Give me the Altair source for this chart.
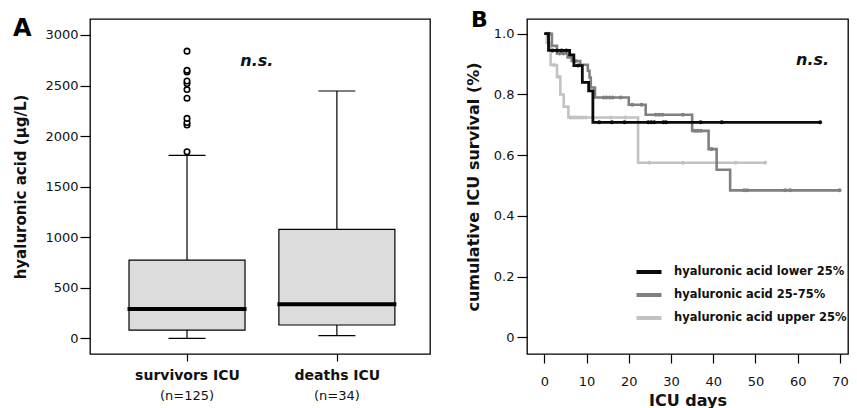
import altair as alt
import pandas as pd

FONT = "DejaVu Sans"
INK = "#111111"

# ---------------- Panel A : box plot summaries (ug/L) ----------------
box_groups = ["survivors ICU", "deaths ICU"]
box_n = ["(n=125)", "(n=34)"]
box_pos = [1, 2]
whisker_low = [0, 26]
q1 = [82, 132]
median = [290, 336]
q3 = [774, 1078]
whisker_high = [1810, 2446]
outlier_values = [1845, 2110, 2135, 2175, 2375, 2460, 2520, 2545, 2635, 2650, 2840]
yticks_A = [0, 500, 1000, 1500, 2000, 2500, 3000]

# ---------------- Panel B : Kaplan-Meier curves ----------------
km_groups = ["hyaluronic acid lower 25%", "hyaluronic acid 25-75%", "hyaluronic acid upper 25%"]
km_colors = ["#0a0a0a", "#808080", "#c2c2c2"]
low_t = [0, 1.0, 6.0, 7.0, 9.0, 10.5, 11.5, 65.3]
low_s = [1.0, 0.945, 0.93, 0.895, 0.84, 0.812, 0.708, 0.708]
mid_t = [0, 1.8, 3.0, 5.5, 6.5, 8.5, 10.3, 10.7, 11.0, 12.0, 20.0, 24.0, 35.0, 38.9, 40.8, 44.0, 70.0]
mid_s = [1.0, 0.96, 0.935, 0.922, 0.91, 0.898, 0.878, 0.856, 0.823, 0.79, 0.766, 0.733, 0.68, 0.62, 0.552, 0.484, 0.484]
up_t = [0, 0.6, 1.5, 3.0, 3.8, 4.6, 5.7, 22.2, 52.3]
up_s = [1.0, 0.97, 0.897, 0.858, 0.80, 0.76, 0.724, 0.575, 0.575]
low_cens = [2.0, 3.0, 4.1, 5.2, 8.0, 13.0, 16.0, 19.0, 24.6, 25.3, 26.0, 28.2, 28.8, 37.0, 42.0, 65.3]
mid_cens = [0.8, 1.3, 3.6, 4.5, 7.5, 14.0, 14.7, 15.5, 16.2, 18.1, 20.8, 23.0, 26.4, 27.2, 28.0,
            32.8, 35.6, 36.3, 37.1, 39.6, 47.3, 48.0, 57.0, 58.2, 69.9]
up_cens = [2.3, 3.4, 6.2, 6.8, 7.4, 8.0, 8.6, 9.2, 9.8, 15.8, 19.2, 24.9, 32.8, 45.3, 52.3]
xticks_B = [0, 10, 20, 30, 40, 50, 60, 70]
yticks_B = [0, 0.2, 0.4, 0.6, 0.8, 1.0]


def step_at(ts, ss, t):
    v = ss[0]
    for ti, si in zip(ts, ss):
        if ti <= t:
            v = si
    return v


# ---------------- tables ----------------
boxdf = pd.DataFrame({"group": box_groups, "n": box_n, "pos": box_pos, "lo": whisker_low,
                      "q1": q1, "med": median, "q3": q3, "hi": whisker_high})
outdf = pd.DataFrame({"pos": [box_pos[0]] * len(outlier_values), "value": outlier_values})

curves = [(low_t, low_s, low_cens), (mid_t, mid_s, mid_cens), (up_t, up_s, up_cens)]
line_rows, cens_rows = [], []
for g, (ts, ss, cs) in zip(km_groups, curves):
    for t, s in zip(ts, ss):
        line_rows.append({"grp": g, "t": t, "s": s})
    for c in cs:
        cens_rows.append({"grp": g, "t": c, "s": step_at(ts, ss, c)})
linedf = pd.DataFrame(line_rows)
censdf = pd.DataFrame(cens_rows)

# ---------------- Panel A ----------------
labexpr = " : ".join(f"datum.value == {p} ? '{g}'" for p, g in zip(box_pos, box_groups)) + " : ''"
xA_scale = alt.Scale(domain=[0.386, 2.588], nice=False, zero=False)
xA_axis = alt.Axis(values=box_pos, labelExpr=labexpr, tickSize=7, labelPadding=7,
                   labelFontSize=14, labelFontWeight="bold", labelFlush=False)
yA_scale = alt.Scale(domain=[-155, 3158], nice=False, zero=False)
yA_axis = alt.Axis(values=yticks_A, format="d", tickSize=10, labelPadding=2, titlePadding=16,
                   titleFontSize=15)
yA_title = "hyaluronic acid (μg/L)"


def xA(field="pos"):
    return alt.X(f"{field}:Q", scale=xA_scale, axis=xA_axis, title=None)


def yA(field):
    return alt.Y(f"{field}:Q", scale=yA_scale, axis=yA_axis, title=yA_title)


baseA = alt.Chart(boxdf)
whisk_lo = baseA.mark_rule(color="black", strokeWidth=1.2).encode(x=xA(), y=yA("lo"), y2="q1:Q")
whisk_hi = baseA.mark_rule(color="black", strokeWidth=1.2).encode(x=xA(), y=yA("q3"), y2="hi:Q")
box = baseA.mark_bar(size=116, fill="#dcdcdc", stroke="black", strokeWidth=1.2, opacity=1).encode(
    x=xA(), y=yA("q1"), y2="q3:Q")
cap_lo = baseA.mark_tick(orient="horizontal", size=37, thickness=1.2, color="black", opacity=1).encode(
    x=xA(), y=yA("lo"))
cap_hi = baseA.mark_tick(orient="horizontal", size=37, thickness=1.2, color="black", opacity=1).encode(
    x=xA(), y=yA("hi"))
med = baseA.mark_tick(orient="horizontal", size=119, thickness=4, color="black", opacity=1).encode(
    x=xA(), y=yA("med"))
outl = alt.Chart(outdf).mark_point(shape="circle", filled=True, fill="white", stroke="black",
                                   strokeWidth=1.6, size=30, opacity=1).encode(x=xA(), y=yA("value"))
ntext = baseA.mark_text(font=FONT, fontSize=13, color=INK, baseline="alphabetic").encode(
    x=xA(), y=alt.value(380.5), text="n:N")
nsA = alt.Chart(pd.DataFrame({"x": [1.466], "y": [2696], "t": ["n.s."]})).mark_text(
    font=FONT, fontSize=16, fontWeight="bold", fontStyle="italic", color=INK, baseline="alphabetic").encode(
    x=xA("x"), y=yA("y"), text="t:N")
letA = alt.Chart(pd.DataFrame({"t": ["A"]})).mark_text(
    font=FONT, fontSize=24, fontWeight="bold", color="black", align="left", baseline="top").encode(
    x=alt.value(-77), y=alt.value(-2.4), text="t:N")

panelA = alt.layer(whisk_lo, whisk_hi, box, cap_lo, cap_hi, med, outl, ntext, nsA, letA).properties(
    width=340, height=335)

# ---------------- Panel B ----------------
xB_scale = alt.Scale(domain=[-4.096, 71.9], nice=False, zero=False)
xB_axis = alt.Axis(values=xticks_B, tickSize=9, labelPadding=12, titlePadding=4, titleFontSize=16,
                   labelFlush=False)
yB_scale = alt.Scale(domain=[-0.055, 1.0485], nice=False, zero=False)
yB_axis = alt.Axis(values=yticks_B, labelExpr="datum.value == 0 ? '0' : format(datum.value, '.1f')",
                   tickSize=10, labelPadding=3, titlePadding=12, titleFontSize=16)
color = alt.Color("grp:N", scale=alt.Scale(domain=km_groups, range=km_colors),
                  legend=alt.Legend(orient="none", legendX=107.5, legendY=238.5, title=None,
                                    symbolType="stroke", symbolSize=625, symbolStrokeWidth=4,
                                    labelFont=FONT, labelFontSize=11.5, labelFontWeight="bold",
                                    labelColor=INK, labelOffset=10.5, rowPadding=-0.5, padding=0,
                                    labelLimit=400))


def xB():
    return alt.X("t:Q", scale=xB_scale, axis=xB_axis, title="ICU days")


def yB():
    return alt.Y("s:Q", scale=yB_scale, axis=yB_axis, title="cumulative ICU survival (%)")


layersB = []
for g, w in zip(reversed(km_groups), [2.6, 2.6, 2.8]):
    layersB.append(alt.Chart(linedf).transform_filter(alt.datum.grp == g).mark_line(
        interpolate="step-after", strokeWidth=w).encode(x=xB(), y=yB(), color=color))
    layersB.append(alt.Chart(censdf).transform_filter(alt.datum.grp == g).mark_point(
        shape="circle", filled=True, size=16, opacity=1).encode(x=xB(), y=yB(), color=color))
nsB = alt.Chart(pd.DataFrame({"t": [63.5], "s": [0.897], "lab": ["n.s."]})).mark_text(
    font=FONT, fontSize=16, fontWeight="bold", fontStyle="italic", color=INK, baseline="alphabetic").encode(
    x=xB(), y=yB(), text="lab:N")
letB = alt.Chart(pd.DataFrame({"t": ["B"]})).mark_text(
    font=FONT, fontSize=22, fontWeight="bold", color="black", align="left", baseline="top").encode(
    x=alt.value(-56), y=alt.value(-9.3), text="t:N")

panelB = alt.layer(*layersB, nsB, letB).properties(width=321, height=335)

chart = alt.hconcat(panelA, panelB, spacing=97, bounds="flush").resolve_legend(
    color="independent"
).resolve_scale(color="independent").properties(
    padding={"left": 4, "top": 0, "right": 0, "bottom": 0}
).configure_view(stroke="black", strokeWidth=1.3).configure_axis(
    domain=False, grid=False, ticks=True, tickColor="black", tickWidth=1.2,
    labelFont=FONT, labelFontSize=13, labelColor=INK,
    titleFont=FONT, titleFontWeight="bold", titleColor=INK
)

chart.save("out.html", embed_options={"renderer": "svg", "actions": False})
